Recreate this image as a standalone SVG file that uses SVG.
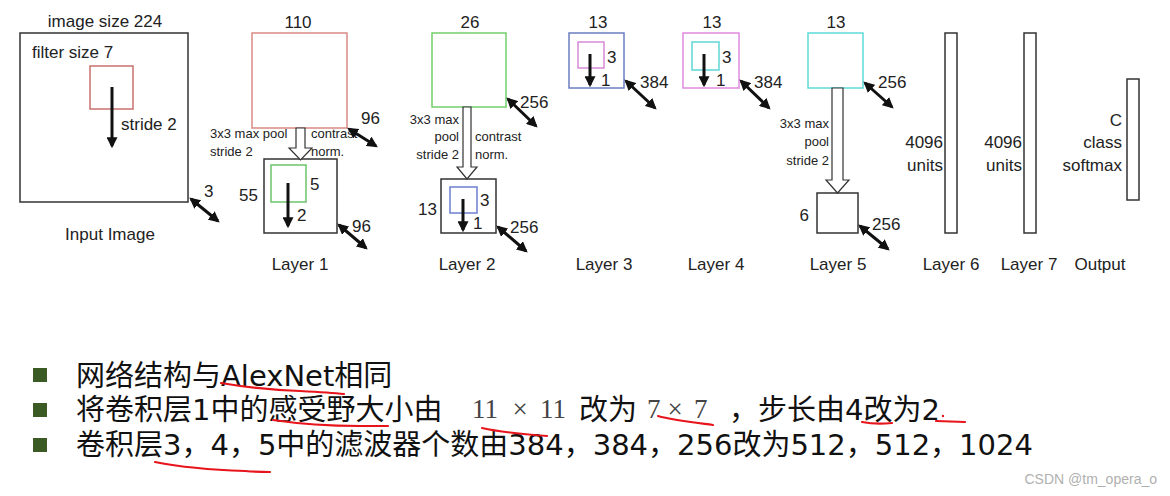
<svg xmlns="http://www.w3.org/2000/svg" width="1170" height="496" viewBox="0 0 1170 496">
<style>
text{font-family:"Liberation Sans",Arial,sans-serif;fill:#222}
.t{font-size:17px}
.s{font-size:13px}
.box{fill:none;stroke:#333;stroke-width:1.5}
.dbl{stroke:#111;stroke-width:3;marker-start:url(#ah);marker-end:url(#ah)}
.dn{stroke:#111;stroke-width:3;marker-end:url(#ah)}
.hol{fill:#fff;stroke:#333;stroke-width:1.2}
.cn{font-family:"DejaVu Sans","Noto Sans CJK SC","Microsoft YaHei",sans-serif;font-size:29px;fill:#111}
.m{font-family:"Liberation Serif","Times New Roman",serif;font-size:27px;fill:#444}
.red{fill:none;stroke:#e8141c;stroke-width:2.2;stroke-linecap:round}
</style>
<defs>
<marker id="ah" viewBox="0 0 10 10" refX="8" refY="5" markerWidth="11" markerHeight="11" markerUnits="userSpaceOnUse" orient="auto-start-reverse">
<path d="M0,0 L10,5 L0,10 z" fill="#111"/>
</marker>
</defs>
<rect width="1170" height="496" fill="#fff"/>

<g id="input">
<rect class="box" x="20" y="33" width="168" height="169"/>
<rect fill="none" stroke="#c9726e" stroke-width="1.5" x="90" y="66" width="43" height="43"/>
<text class="t" x="105" y="27" text-anchor="middle">image size 224</text>
<text class="t" x="32" y="58">filter size 7</text>
<text class="t" x="121" y="130">stride 2</text>
<text class="t" x="204" y="197">3</text>
<text class="t" x="110" y="240" text-anchor="middle">Input Image</text>
</g>

<g id="layer1">
<rect fill="none" stroke="#d98a84" stroke-width="1.5" x="252" y="33" width="95" height="95"/>
<text class="t" x="298" y="28" text-anchor="middle">110</text>
<text class="t" x="361" y="124">96</text>
<text class="s" x="210" y="138">3x3 max pool</text>
<text class="s" x="210" y="156">stride 2</text>
<text class="s" x="311" y="138">contrast</text>
<text class="s" x="311" y="156">norm.</text>
<rect class="box" x="264" y="159" width="73" height="74"/>
<rect fill="none" stroke="#6cc46a" stroke-width="1.5" x="271" y="165" width="35" height="37"/>
<text class="t" x="310" y="190">5</text>
<text class="t" x="297" y="221">2</text>
<text class="t" x="258" y="201" text-anchor="end">55</text>
<text class="t" x="352" y="232">96</text>
<text class="t" x="300" y="270" text-anchor="middle">Layer 1</text>
</g>

<g id="layer2">
<rect fill="none" stroke="#72cf6c" stroke-width="1.5" x="432" y="33" width="74" height="74"/>
<text class="t" x="470" y="28" text-anchor="middle">26</text>
<text class="t" x="520" y="108">256</text>
<text class="s" x="459" y="124" text-anchor="end">3x3 max</text>
<text class="s" x="459" y="141" text-anchor="end">pool</text>
<text class="s" x="459" y="159" text-anchor="end">stride 2</text>
<text class="s" x="475" y="141">contrast</text>
<text class="s" x="475" y="159">norm.</text>
<rect class="box" x="441" y="179" width="55" height="54"/>
<rect fill="none" stroke="#6c7fd0" stroke-width="1.5" x="450" y="187" width="27" height="26"/>
<text class="t" x="480" y="206">3</text>
<text class="t" x="473" y="229">1</text>
<text class="t" x="437" y="215" text-anchor="end">13</text>
<text class="t" x="510" y="233">256</text>
<text class="t" x="467" y="270" text-anchor="middle">Layer 2</text>
</g>

<g id="layer3">
<rect fill="none" stroke="#6c7fc0" stroke-width="1.5" x="569" y="33" width="55" height="55"/>
<rect fill="none" stroke="#d88ad8" stroke-width="1.5" x="578" y="42" width="26" height="26"/>
<text class="t" x="598" y="28" text-anchor="middle">13</text>
<text class="t" x="607" y="63">3</text>
<text class="t" x="601" y="86">1</text>
<text class="t" x="640" y="88">384</text>
<text class="t" x="604" y="270" text-anchor="middle">Layer 3</text>
</g>

<g id="layer4">
<rect fill="none" stroke="#e08ae0" stroke-width="1.5" x="683" y="33" width="56" height="55"/>
<rect fill="none" stroke="#5fd6d6" stroke-width="1.5" x="692" y="42" width="27" height="28"/>
<text class="t" x="712" y="28" text-anchor="middle">13</text>
<text class="t" x="722" y="63">3</text>
<text class="t" x="716" y="86">1</text>
<text class="t" x="754" y="88">384</text>
<text class="t" x="716" y="270" text-anchor="middle">Layer 4</text>
</g>

<g id="layer5">
<rect fill="none" stroke="#5fdada" stroke-width="1.5" x="808" y="33" width="55" height="55"/>
<text class="t" x="836" y="28" text-anchor="middle">13</text>
<text class="t" x="878" y="88">256</text>
<text class="s" x="829" y="128" text-anchor="end">3x3 max</text>
<text class="s" x="829" y="146" text-anchor="end">pool</text>
<text class="s" x="829" y="165" text-anchor="end">stride 2</text>
<rect class="box" x="817" y="193" width="41" height="40"/>
<text class="t" x="809" y="221" text-anchor="end">6</text>
<text class="t" x="872" y="230">256</text>
<text class="t" x="838" y="270" text-anchor="middle">Layer 5</text>
</g>

<g id="layer6">
<rect class="box" x="945" y="33" width="12" height="200"/>
<text class="t" x="943" y="148" text-anchor="end">4096</text>
<text class="t" x="943" y="171" text-anchor="end">units</text>
<text class="t" x="951" y="270" text-anchor="middle">Layer 6</text>
</g>

<g id="layer7">
<rect class="box" x="1024" y="33" width="12" height="200"/>
<text class="t" x="1022" y="148" text-anchor="end">4096</text>
<text class="t" x="1022" y="171" text-anchor="end">units</text>
<text class="t" x="1029" y="270" text-anchor="middle">Layer 7</text>
</g>

<g id="output">
<rect class="box" x="1127" y="79" width="12" height="121"/>
<text class="t" x="1122" y="126" text-anchor="end">C</text>
<text class="t" x="1122" y="148" text-anchor="end">class</text>
<text class="t" x="1122" y="171" text-anchor="end">softmax</text>
<text class="t" x="1100" y="270" text-anchor="middle">Output</text>
</g>

<g id="connectors">
<line class="dn" x1="112" y1="87" x2="112" y2="146"/>
<line class="dn" x1="288" y1="183" x2="288" y2="226"/>
<line class="dn" x1="463" y1="199" x2="463" y2="230"/>
<line class="dn" x1="590" y1="54" x2="590" y2="85"/>
<line class="dn" x1="704" y1="54" x2="704" y2="85"/>
<line class="dbl" x1="191" y1="199" x2="218" y2="221"/>
<line class="dbl" x1="349" y1="129" x2="376" y2="146"/>
<line class="dbl" x1="339" y1="225" x2="366" y2="248"/>
<line class="dbl" x1="508" y1="99" x2="536" y2="126"/>
<line class="dbl" x1="498" y1="227" x2="526" y2="251"/>
<line class="dbl" x1="626" y1="81" x2="655" y2="108"/>
<line class="dbl" x1="741" y1="81" x2="769" y2="108"/>
<line class="dbl" x1="865" y1="83" x2="892" y2="107"/>
<line class="dbl" x1="860" y1="226" x2="888" y2="249"/>
<polygon class="hol" points="296,128 305,128 305,148 312,148 300.5,160 289,148 296,148"/>
<polygon class="hol" points="463,107 471,107 471,167 477,167 467,179 457,167 463,167"/>
<polygon class="hol" points="832,88 843,88 843,180 849,180 837.5,193 826,180 832,180"/>
</g>

<g id="notes">
<rect x="33" y="368" width="14" height="14" fill="#3b5a24"/>
<rect x="33" y="403" width="14" height="14" fill="#3b5a24"/>
<rect x="33" y="438" width="14" height="14" fill="#3b5a24"/>
<text class="cn" x="76" y="386">网络结构与AlexNet相同</text>
<text class="cn" x="76" y="420">将卷积层1中的感受野大小由</text>
<text class="m" x="472" y="418">11</text>
<text class="m" x="520" y="418" text-anchor="middle">×</text>
<text class="m" x="540" y="418">11</text>
<text class="cn" x="579" y="420">改为</text>
<text class="m" x="647" y="418">7</text>
<text class="m" x="675" y="418" text-anchor="middle">×</text>
<text class="m" x="694" y="418">7</text>
<text class="cn" x="729" y="420">，步长由4改为2</text>
<text class="cn" x="76" y="455">卷积层3，4，5中的滤波器个数由384，384，256改为512，512，1024</text>
<path class="red" d="M221,383 C250,388 270,390 300,391 C320,392 335,393 344,394"/>
<path class="red" d="M273,420 C300,424 330,426 360,426 C375,426 383,426 388,426"/>
<path class="red" d="M482,428 C500,432 520,434 547,436"/>
<path class="red" d="M658,416 C672,420 690,422 713,425"/>
<path class="red" d="M862,422 C872,424 883,424 892,423"/>
<path class="red" d="M936,421 L965,422"/>
<circle cx="943" cy="416" r="1.2" fill="#e8141c"/>
<path class="red" d="M155,462 C185,468 215,470 245,471 C258,472 265,472 270,472"/>
<text x="1157" y="484" text-anchor="end" style="font-family:'Liberation Sans',Arial,sans-serif;font-size:14px;fill:#b0b0b0">CSDN @tm_opera_o</text>
</g>
</svg>
